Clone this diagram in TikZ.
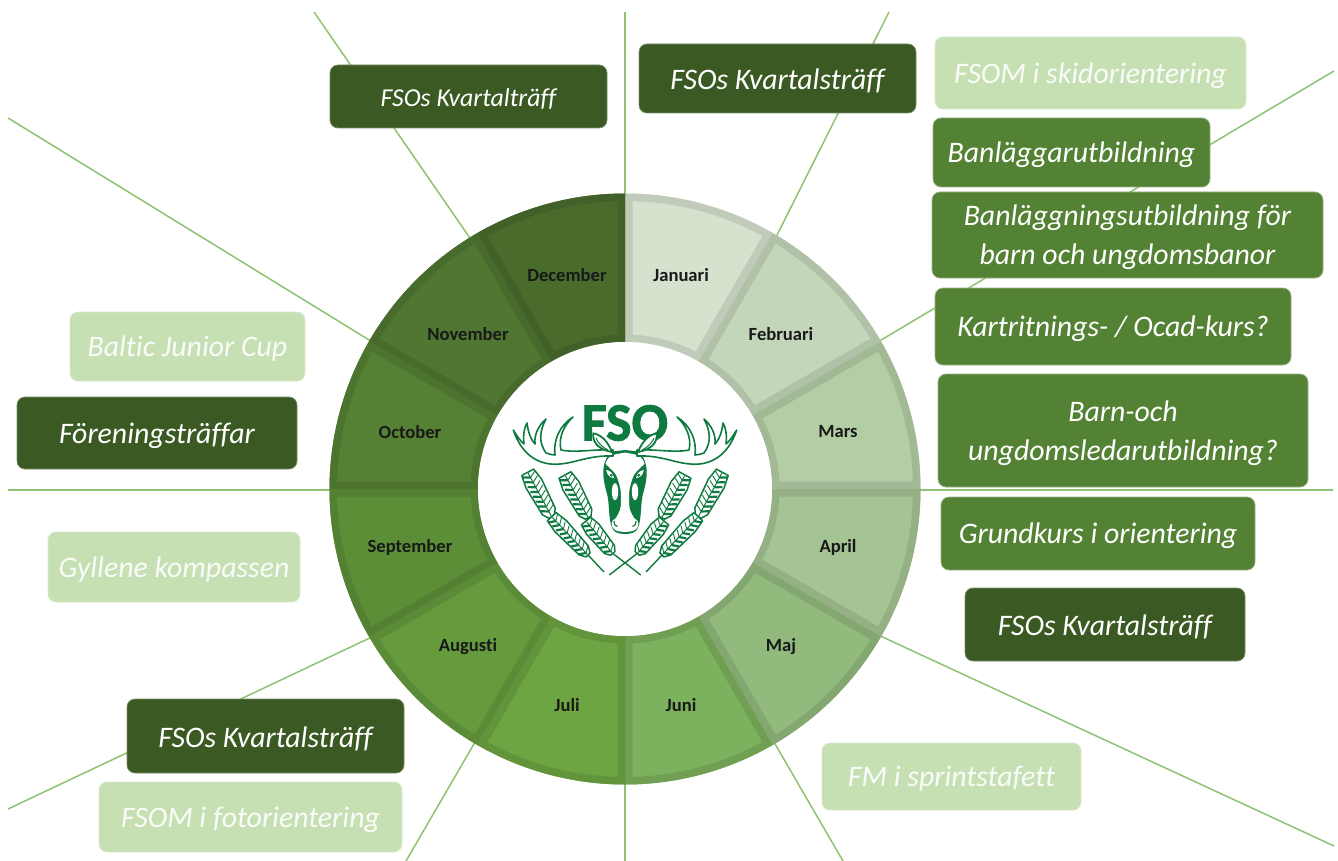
\documentclass[tikz,border=0pt]{standalone}
\usepackage{fontspec}
\setmainfont{Carlito}[Ligatures=NoCommon]
\newfontfamily\logofont{Carlito}[BoldFeatures={FakeBold=1.6}]
\definecolor{cdark}{HTML}{3B5A23}
\definecolor{cmid}{HTML}{548235}
\definecolor{clight}{HTML}{C6E0B4}
\definecolor{cline}{HTML}{8FC273}
\definecolor{clogo}{HTML}{0F7A40}
\definecolor{s1}{HTML}{D5E2CE}
\definecolor{s2}{HTML}{C4D6BA}
\definecolor{s3}{HTML}{B3CDA5}
\definecolor{s4}{HTML}{A5C493}
\definecolor{s5}{HTML}{92BA7C}
\definecolor{s6}{HTML}{7CB15D}
\definecolor{s7}{HTML}{6CA542}
\definecolor{s8}{HTML}{659B3D}
\definecolor{s9}{HTML}{5C8E38}
\definecolor{s10}{HTML}{558134}
\definecolor{s11}{HTML}{4F7731}
\definecolor{s12}{HTML}{496C2C}
\tikzset{
  evbox/.style={rounded corners=8pt,inner sep=0pt},
  evdark/.style={evbox,fill=cdark,draw=cdark!70!white,line width=0.7pt},
  evmid/.style={evbox,fill=cmid,draw=cmid!60!white,line width=0.7pt},
  evlight/.style={evbox,fill=clight,draw=clight!70!white,line width=0.7pt},
  evtext/.style={inner sep=0pt,align=center,font=\fontsize{29.8}{39}\selectfont\itshape,text=white,yshift=-2.5pt},
  evsmall/.style={evtext,font=\fontsize{25.8}{30}\selectfont\itshape},
  evpale/.style={evtext,text=white!92!clight},
  month/.style={font=\fontsize{18.6}{20}\selectfont\bfseries,text=black!90,inner sep=0pt},
  spoke/.style={draw=cline,line width=1.5pt},
  logoline/.style={draw=clogo,line width=1.6pt,line join=round}
}
\newcommand\wheatpart[5]{%
  \begin{scope}[shift={(#1,#2)},rotate=#3]
    \filldraw[logoline,fill=white,line width=1.5pt] (0,.75*#5) -- (.25*#4,#5) -- (.88*#4,.8*#5) -- (#4,.35*#5)
      -- (#4,-.35*#5) -- (.88*#4,-.8*#5) -- (.25*#4,-#5) -- (0,-.75*#5) -- cycle;
    \draw[clogo,line width=1pt] (1,0) -- (#4-1,0);
    \pgfmathsetmacro\wend{#4-2}
    \foreach \u in {6,11.5,...,\wend} {
      \draw[clogo,line width=2.2pt] (\u,0) -- (\u-4,.78*#5);
      \draw[clogo,line width=.9pt] (\u,0) -- (\u-4,-.78*#5);
    }
  \end{scope}}
\newcommand\mirrorboth[1]{#1\begin{scope}[shift={(1250,0)},xscale=-1]#1\end{scope}}
\newcommand\headgreen{%
  \fill[clogo] (625.3,450) -- (612,451.5) .. controls (606,456) and (603,465) .. (603.3,473.3)
    .. controls (603.5,482) and (606,490) .. (607.7,496.7)
    .. controls (609,505) and (609,514) .. (610,520)
    .. controls (611,527) and (613,530) .. (615,531.7)
    .. controls (618,533.5) and (622,534) .. (625.3,534) -- cycle;}
\newcommand\headwhite{%
  \fill[white] (625.4,452.5) -- (612,455) .. controls (608,458) and (606,461) .. (605.5,464)
    .. controls (609,467) and (612,470) .. (615,473.3)
    .. controls (617,477) and (618.5,480) .. (619,483.3)
    .. controls (620.5,488) and (621,492) .. (621,496.7)
    .. controls (621,502) and (621,506) .. (620,510)
    .. controls (619,513) and (617,516) .. (615.7,518.3)
    .. controls (613,520) and (611.5,521) .. (611.7,523.3)
    .. controls (612,527) and (613,529) .. (615,530)
    .. controls (618,531.5) and (622,532) .. (625.4,532) -- cycle;}
\newcommand\halflogo{%
  \filldraw[logoline,fill=white] (613,456) .. controls (590,455) and (575,463) .. (560,464)
    .. controls (540,466) and (522,456) .. (513.3,430)
    .. controls (517,436) and (521,442) .. (524,444)
    .. controls (523,436) and (524,428) .. (527,423)
    .. controls (528,432) and (531,440) .. (535,444)
    .. controls (534,434) and (539,425) .. (546,419)
    .. controls (540,430) and (538,442) .. (546,453)
    .. controls (549,454) and (552,455) .. (555,455)
    .. controls (553,440) and (560,425) .. (573,417)
    .. controls (564,425) and (558,438) .. (561,450)
    .. controls (575,453) and (595,449) .. (613,450) -- cycle;
  \fill[white] (606.2,470) .. controls (610,470.5) and (613,473) .. (614,478) .. controls (610,478) and (607,475) .. (606.2,470) -- cycle;
  \fill[clogo] (611.3,475.2) circle[radius=1.6pt];
  \fill[white] (615,491.7) ellipse[x radius=3.2,y radius=8.5];
  \draw[clogo,line width=1.2pt] (614,521) .. controls (613.5,524) and (615,526) .. (617.5,526.5);
  \filldraw[clogo,line width=1.8pt,fill=white,line join=round] (593.3,433.3) .. controls (592,443) and (600,450) .. (612,452)
    .. controls (608,442) and (602,435) .. (593.3,433.3) -- cycle;
  \draw[clogo,line width=1pt] (596,438) .. controls (598,443) and (602,447) .. (608,450);
  \wheatpart{527.7}{472.3}{-61.6}{50.5}{9}
  \wheatpart{551.7}{516.7}{-46.5}{52.8}{8}
  \wheatpart{565}{475}{-61.4}{48.6}{9}
  \wheatpart{586}{521}{-50.5}{42}{8}
  \draw[clogo,line width=1.4pt] (588,555) -- (604,572);
  \draw[clogo,line width=1.4pt] (612.7,553.3) -- (640.7,575);
}
\begin{document}
\begin{tikzpicture}[x=1pt,y=-1pt]
\useasboundingbox (0,0) rectangle (1338,861);
\fill[white] (0,0) rectangle (1338,861);

% spoke end points
\coordinate (tN) at (625,12);   \coordinate (rN) at (625,200);
\coordinate (tS) at (625,861);  \coordinate (rS) at (625,780);
\coordinate (tW) at (8,490);    \coordinate (rW) at (335,490);
\coordinate (tE) at (1333,490); \coordinate (rE) at (915,490);
\coordinate (t1) at (889,12);   \coordinate (r1) at (774,241);
\coordinate (t2) at (1334,71);  \coordinate (r2) at (876,343);
\coordinate (t4) at (1334,846); \coordinate (r4) at (876,634);
\coordinate (t5) at (843,861);  \coordinate (r5) at (771,737);
\coordinate (t7) at (406,861);  \coordinate (r7) at (478,737);
\coordinate (t8) at (8,809);    \coordinate (r8) at (374,636);
\coordinate (t10) at (8,118);   \coordinate (r10) at (374,343);
\coordinate (t11) at (314,12);  \coordinate (r11) at (472,241);
\foreach \e in {N,S,W,E,1,2,4,5,7,8,10,11} \draw[spoke] (t\e) -- (r\e);

% ring
\begin{scope}[shift={(625,489)},x=1pt,y=1pt]
  \foreach \i in {1,...,12} {
    \pgfmathsetmacro\sa{120-30*\i}
    \pgfmathsetmacro\sb{90-30*\i}
    \def\secpath{(\sa:147) -- (\sa:295.5) arc[start angle=\sa,end angle=\sb,radius=295.5] -- (\sb:147) arc[start angle=\sb,end angle=\sa,radius=147] -- cycle}
    \fill[s\i] \secpath;
    \begin{scope}
      \clip \secpath;
      \draw[s\i!90!black,line width=15pt] \secpath;
    \end{scope}
  }
  \fill[white] (0,0) circle[radius=147];
\end{scope}

% month labels
\node[month] (jan) at (681,275) {Januari};
\node[month] (feb) at (781,334) {Februari};
\node[month] (mar) at (838,432) {Mars};
\node[month] (apr) at (838,547) {April};
\node[month] (maj) at (781,647) {Maj};
\node[month] (jun) at (681,705) {Juni};
\node[month] (jul) at (567,705) {Juli};
\node[month] (aug) at (468,647) {Augusti};
\node[month] (sep) at (410,547) {September};
\node[month] (oct) at (410,432) {October};
\node[month] (nov) at (468,334) {November};
\node[month] (dec) at (567,275) {December};

% logo
\node[font=\logofont\fontsize{54}{54}\selectfont\bfseries,text=clogo,inner sep=0pt] (fso) at (625,423) {FSO};
\mirrorboth{\headgreen}
\mirrorboth{\headwhite}
\mirrorboth{\halflogo}

% event boxes
\node[evdark,minimum width=277pt,minimum height=63pt] (k1) at (468.5,96.5) {};
\node[evsmall] (k1t) at (k1.center) {FSOs Kvartalträff};
\node[evdark,minimum width=277pt,minimum height=69pt] (k2) at (777.5,78.5) {};
\node[evtext] (k2t) at (k2.center) {FSOs Kvartalsträff};
\node[evlight,minimum width=311pt,minimum height=72pt] (sk) at (1090.5,73) {};
\node[evpale] (skt) at (sk.center) {FSOM i skidorientering};
\node[evmid,minimum width=277pt,minimum height=69pt] (ban) at (1071.5,152.5) {};
\node[evtext] (bant) at (ban.center) {Banläggarutbildning};
\node[evmid,minimum width=391pt,minimum height=86pt] (banb) at (1127.5,235) {};
\node[evtext] (banbt) at (banb.center) {Banläggningsutbildning för\\barn och ungdomsbanor};
\node[evmid,minimum width=356pt,minimum height=77pt] (kart) at (1113,326.5) {};
\node[evtext] (kartt) at (kart.center) {Kartritnings- / Ocad-kurs?};
\node[evmid,minimum width=370pt,minimum height=113pt] (barn) at (1123,430.5) {};
\node[evtext] (barnt) at (barn.center) {Barn-och\\ungdomsledarutbildning?};
\node[evmid,minimum width=314pt,minimum height=73pt] (grund) at (1098,533.5) {};
\node[evtext] (grundt) at (grund.center) {Grundkurs i orientering};
\node[evdark,minimum width=280pt,minimum height=73pt] (k3) at (1105,624.5) {};
\node[evtext] (k3t) at (k3.center) {FSOs Kvartalsträff};
\node[evlight,minimum width=259pt,minimum height=67pt] (fm) at (951.5,776.5) {};
\node[evpale] (fmt) at (fm.center) {FM i sprintstafett};
\node[evdark,minimum width=277pt,minimum height=74pt] (k4) at (265.5,736) {};
\node[evtext] (k4t) at (k4.center) {FSOs Kvartalsträff};
\node[evlight,minimum width=303pt,minimum height=70pt] (fo) at (250.5,817) {};
\node[evpale] (fot) at (fo.center) {FSOM i fotorientering};
\node[evlight,minimum width=252pt,minimum height=70pt] (gyl) at (174,567) {};
\node[evpale] (gylt) at (gyl.center) {Gyllene kompassen};
\node[evdark,minimum width=280pt,minimum height=72pt] (for) at (157,433) {};
\node[evtext] (fort) at (for.center) {Föreningsträffar};
\node[evlight,minimum width=235pt,minimum height=69pt] (bal) at (187.5,346.5) {};
\node[evpale] (balt) at (bal.center) {Baltic Junior Cup};
\end{tikzpicture}
\end{document}
